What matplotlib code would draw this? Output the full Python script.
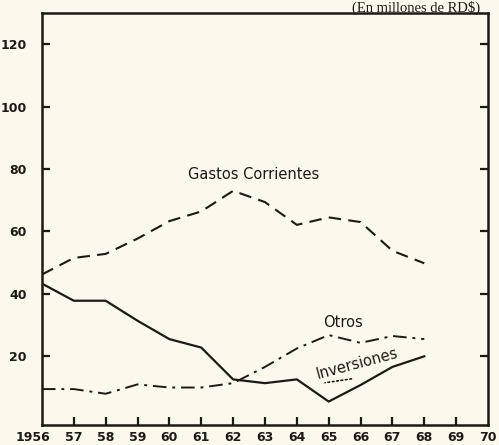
import matplotlib.pyplot as plt

years = [1956, 1957, 1958, 1959, 1960, 1961, 1962, 1963, 1964, 1965, 1966, 1967, 1968]
gastos_corrientes = [46.2, 51.5, 52.8, 57.7, 63.3, 66.4, 73.0, 69.4, 62.1, 64.5, 63.0, 53.8, 49.8]
inversiones = [43.3, 37.8, 37.8, 31.4, 25.5, 22.8, 12.6, 11.4, 12.6, 5.5, 10.8, 16.6, 20.0]
otros = [9.5, 9.5, 8.0, 11.0, 10.0, 10.0, 11.4, 16.6, 22.5, 26.8, 24.3, 26.5, 25.5]

x_ticks = list(range(1957, 1970))
x_labels = [str(y % 100) for y in x_ticks]
y_ticks = [20, 40, 60, 80, 100, 120]

bg = "#fbf8ec"
ink = "#1c1a17"

fig = plt.figure(figsize=(4.99, 4.45), dpi=100, facecolor=bg)
ax = fig.add_axes([0.084, 0.045, 0.894, 0.926], facecolor=bg)

ax.plot(years, gastos_corrientes, color=ink, lw=1.5, dashes=(6, 3.5))
ax.plot(years, inversiones, color=ink, lw=1.6)
ax.plot(years, otros, color=ink, lw=1.4, dashes=(7, 3, 1.5, 3))

ax.set_xlim(1956, 1970)
ax.set_ylim(-2, 130)

ax.set_xticks(x_ticks)
ax.set_xticklabels(x_labels)
ax.set_yticks(y_ticks)
ax.set_yticklabels([str(v) for v in y_ticks])
ax.tick_params(axis="both", direction="in", length=6, width=1.6, colors=ink,
               labelsize=9, right=True)
ax.tick_params(axis="x", pad=4)
ax.tick_params(axis="y", pad=11)
for lbl in ax.get_xticklabels() + ax.get_yticklabels():
    lbl.set_fontweight("bold")
    lbl.set_color(ink)

# the first and last years sit on the frame corners
ax.annotate("1956", xy=(1956, 0), xycoords=("data", "axes fraction"),
            xytext=(6, -4), textcoords="offset points", ha="right", va="top",
            fontsize=9, fontweight="bold", color=ink)
ax.annotate("70", xy=(1970, 0), xycoords=("data", "axes fraction"),
            xytext=(0, -4), textcoords="offset points", ha="center", va="top",
            fontsize=9, fontweight="bold", color=ink)

for side in ax.spines.values():
    side.set_linewidth(1.8)
    side.set_color(ink)

ax.text(1962.65, 78.2, "Gastos Corrientes", ha="center", va="center",
        fontsize=10.5, color=ink)
ax.text(1965.45, 30.7, "Otros", ha="center", va="center",
        fontsize=10.5, color=ink)
ax.text(1965.9, 17.6, "Inversiones", ha="center", va="center",
        fontsize=10.5, color=ink, rotation=15)
ax.annotate("", xy=(1964.8, 11.4), xytext=(1965.8, 12.9),
            arrowprops=dict(arrowstyle="-", linestyle=":", color=ink, lw=1.2))

fig.text(0.962, 0.998, "(En millones de RD$)", ha="right", va="top",
         fontsize=10.5, family="Liberation Serif", color=ink)

fig.savefig("out.png", dpi=100, facecolor=bg)
